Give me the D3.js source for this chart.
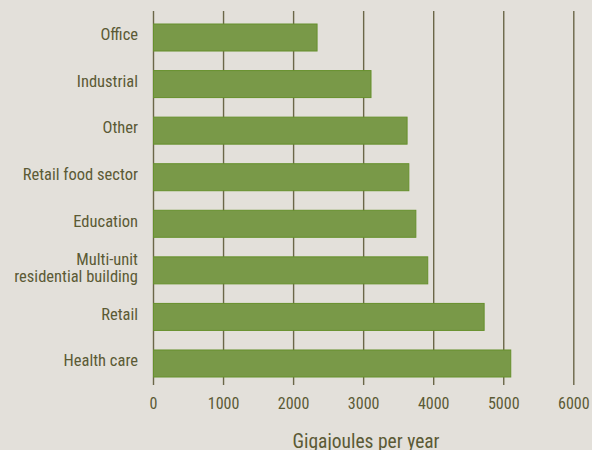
<!DOCTYPE html>
<html>
<head>
<meta charset="utf-8">
<script src="https://cdn.jsdelivr.net/npm/d3@7/dist/d3.min.js"></script>
<style>
  html, body { margin: 0; padding: 0; background: #e3e0da; }
  svg { display: block; }
  text { font-family: "Liberation Sans Narrow", "Roboto Condensed", "Liberation Sans", sans-serif; fill: #5b5a35; }
</style>
</head>
<body>
<svg id="chart" width="592" height="450"></svg>
<script>
// Annual energy use by building type
const categories = [
  "Office", "Industrial", "Other", "Retail food sector", "Education",
  "Multi-unit\nresidential building", "Retail", "Health care"
];
const values = [2335, 3105, 3620, 3645, 3745, 3915, 4720, 5100];
const xTicks = [0, 1000, 2000, 3000, 4000, 5000, 6000];
const xTitle = "Gigajoules per year";

const svg = d3.select("#chart");
const W = 592, H = 450;
svg.append("rect").attr("width", W).attr("height", H).attr("fill", "#e3e0da");

const x = d3.scaleLinear().domain([0, 6000]).range([153.5, 573.8]);
const y = d3.scaleBand().domain(categories).range([24, 377]).paddingInner(0.42).paddingOuter(0);

const gridTop = 11, gridBottom = 385;

// vertical grid lines
svg.append("g").selectAll("line").data(xTicks).join("line")
  .attr("x1", d => x(d)).attr("x2", d => x(d))
  .attr("y1", gridTop).attr("y2", gridBottom)
  .attr("stroke", "#6b6748").attr("stroke-width", 1.4);

// bars
svg.append("g").selectAll("rect").data(categories).join("rect")
  .attr("x", x(0))
  .attr("y", d => y(d))
  .attr("width", (d, i) => x(values[i]) - x(0))
  .attr("height", y.bandwidth())
  .attr("fill", "#799948")
  .attr("stroke", "#66902c")
  .attr("stroke-width", 1);

// category labels
const labels = svg.append("g").selectAll("text").data(categories).join("text")
  .attr("text-anchor", "end")
  .attr("font-size", 16.5)
  .attr("transform", d => `translate(138, ${y(d) + y.bandwidth() / 2})`);
labels.each(function (d) {
  const lines = d.split("\n");
  const t = d3.select(this);
  const lh = 17;
  lines.forEach((ln, k) => {
    t.append("tspan").attr("x", 0)
      .attr("y", (k - (lines.length - 1) / 2) * lh - 3)
      .attr("dy", "0.35em")
      .text(ln);
  });
});

// tick labels
svg.append("g").selectAll("text").data(xTicks).join("text")
  .attr("x", d => x(d)).attr("y", 403)
  .attr("dy", "0.35em")
  .attr("text-anchor", "middle")
  .attr("font-size", 16)
  .text(d => d);

// axis title
svg.append("text")
  .attr("x", 366).attr("y", 441).attr("dy", "0.35em")
  .attr("text-anchor", "middle")
  .attr("font-size", 19.5)
  .text(xTitle);
</script>
</body>
</html>
